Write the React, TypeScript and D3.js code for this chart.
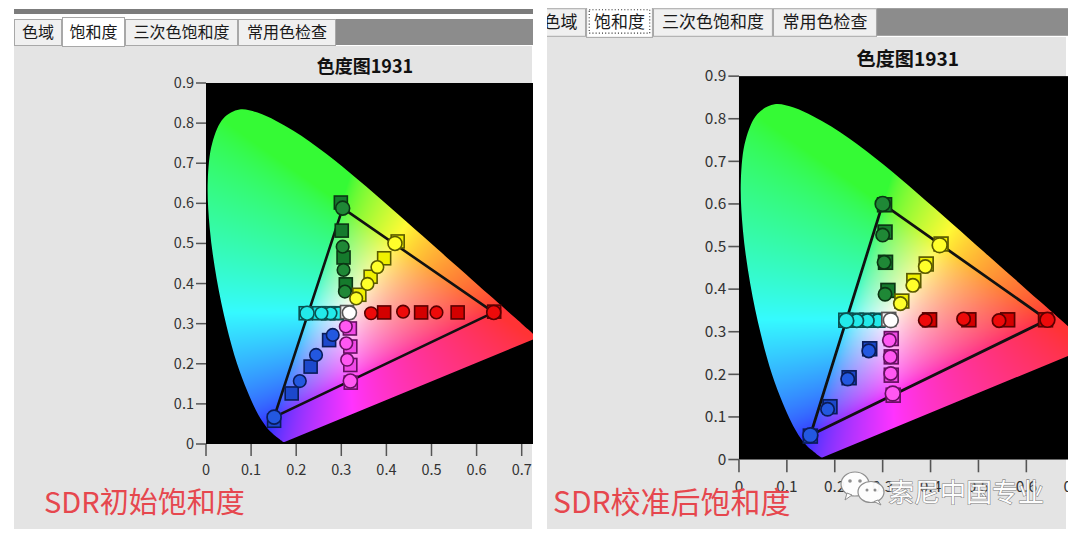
import React, { useMemo } from 'react';
import * as d3 from 'd3';

type Pt = [number, number];

// CIE 1931 2° spectral locus (x, y), 380–700 nm
const spectralLocus: Pt[] = [
  [0.1741, 0.005], [0.174, 0.005], [0.1738, 0.0049], [0.1736, 0.0049], [0.1733, 0.0048],
  [0.173, 0.0048], [0.1726, 0.0048], [0.1721, 0.0048], [0.1714, 0.0051], [0.1703, 0.0058],
  [0.1689, 0.0069], [0.1669, 0.0086], [0.1644, 0.0109], [0.1611, 0.0138], [0.1566, 0.0177],
  [0.151, 0.0227], [0.144, 0.0297], [0.1355, 0.0399], [0.1241, 0.0578], [0.1096, 0.0868],
  [0.0913, 0.1327], [0.0687, 0.2007], [0.0454, 0.295], [0.0235, 0.4127], [0.0082, 0.5384],
  [0.0039, 0.6548], [0.0139, 0.7502], [0.0389, 0.812], [0.0743, 0.8338], [0.1142, 0.8262],
  [0.1547, 0.8059], [0.1929, 0.7816], [0.2296, 0.7543], [0.2658, 0.7243], [0.3016, 0.6923],
  [0.3373, 0.6589], [0.3731, 0.6245], [0.4087, 0.5896], [0.4441, 0.5547], [0.4788, 0.5202],
  [0.5125, 0.4866], [0.5448, 0.4544], [0.5752, 0.4242], [0.6029, 0.3965], [0.627, 0.3725],
  [0.6482, 0.3514], [0.6658, 0.334], [0.6801, 0.3197], [0.6915, 0.3083], [0.7006, 0.2993],
  [0.7079, 0.292], [0.714, 0.2859], [0.719, 0.2809], [0.723, 0.277], [0.726, 0.274],
  [0.7283, 0.2717], [0.73, 0.27], [0.7311, 0.2689], [0.732, 0.268], [0.7334, 0.2666],
  [0.7344, 0.2656], [0.7347, 0.2653],
];

const xTicks = [0, 0.1, 0.2, 0.3, 0.4, 0.5, 0.6, 0.7];
const yTicks = [0, 0.1, 0.2, 0.3, 0.4, 0.5, 0.6, 0.7, 0.8, 0.9];
const tabLabels = ['色域', '饱和度', '三次色饱和度', '常用色检查'];
const chartTitle = '色度图1931';
const leftCaption = 'SDR初始饱和度';
const rightCaption = 'SDR校准后饱和度';
const watermarkText = '索尼中国专业';

// Initial (uncalibrated) saturation sweep: targets (squares) and measurements (circles), 25%→100%
const initRedTarget: Pt[] = [[0.395, 0.328], [0.477, 0.328], [0.558, 0.328], [0.639, 0.33]];
const initRedMeasured: Pt[] = [[0.366, 0.326], [0.437, 0.33], [0.511, 0.328], [0.638, 0.328]];
const initGreenTarget: Pt[] = [[0.31, 0.398], [0.305, 0.465], [0.301, 0.532], [0.299, 0.602]];
const initGreenMeasured: Pt[] = [[0.308, 0.38], [0.305, 0.434], [0.303, 0.492], [0.303, 0.588]];
const initBlueTarget: Pt[] = [[0.273, 0.259], [0.232, 0.193], [0.19, 0.126], [0.151, 0.058]];
const initBlueMeasured: Pt[] = [[0.281, 0.272], [0.244, 0.222], [0.208, 0.157], [0.151, 0.067]];
const initCyanTarget: Pt[] = [[0.29, 0.326], [0.271, 0.326], [0.251, 0.326], [0.221, 0.326]];
const initCyanMeasured: Pt[] = [[0.293, 0.326], [0.276, 0.326], [0.256, 0.326], [0.224, 0.326]];
const initMagentaTarget: Pt[] = [[0.319, 0.288], [0.32, 0.243], [0.32, 0.197], [0.321, 0.153]];
const initMagentaMeasured: Pt[] = [[0.31, 0.293], [0.311, 0.251], [0.313, 0.21], [0.32, 0.157]];
const initYellowTarget: Pt[] = [[0.34, 0.372], [0.365, 0.417], [0.395, 0.463], [0.425, 0.505]];
const initYellowMeasured: Pt[] = [[0.333, 0.363], [0.358, 0.399], [0.38, 0.441], [0.419, 0.5]];
const initWhiteTarget: Pt[] = [[0.3127, 0.329]];
const initWhiteMeasured: Pt[] = [[0.318, 0.327]];

// Calibrated saturation sweep
const calRedTarget: Pt[] = [[0.398, 0.328], [0.48, 0.328], [0.561, 0.328], [0.64, 0.328]];
const calRedMeasured: Pt[] = [[0.389, 0.327], [0.469, 0.33], [0.543, 0.326], [0.644, 0.328]];
const calGreenTarget: Pt[] = [[0.311, 0.397], [0.306, 0.463], [0.305, 0.534], [0.304, 0.598]];
const calGreenMeasured: Pt[] = [[0.305, 0.388], [0.303, 0.463], [0.3, 0.527], [0.3, 0.6]];
const calBlueTarget: Pt[] = [[0.273, 0.26], [0.23, 0.192], [0.19, 0.124], [0.149, 0.055]];
const calBlueMeasured: Pt[] = [[0.271, 0.255], [0.227, 0.189], [0.185, 0.118], [0.149, 0.057]];
const calCyanTarget: Pt[] = [[0.29, 0.327], [0.267, 0.327], [0.245, 0.327], [0.223, 0.327]];
const calCyanMeasured: Pt[] = [[0.29, 0.326], [0.268, 0.326], [0.246, 0.326], [0.224, 0.326]];
const calMagentaTarget: Pt[] = [[0.318, 0.284], [0.318, 0.241], [0.318, 0.198], [0.322, 0.151]];
const calMagentaMeasured: Pt[] = [[0.314, 0.28], [0.316, 0.241], [0.317, 0.202], [0.321, 0.155]];
const calYellowTarget: Pt[] = [[0.34, 0.372], [0.365, 0.42], [0.391, 0.459], [0.422, 0.506]];
const calYellowMeasured: Pt[] = [[0.337, 0.366], [0.363, 0.409], [0.389, 0.453], [0.419, 0.503]];
const calWhiteTarget: Pt[] = [[0.3127, 0.329]];
const calWhiteMeasured: Pt[] = [[0.317, 0.327]];

interface SeriesStyle { square: string; circle: string; stroke: string }
const styles: Record<string, SeriesStyle> = {
  red: { square: '#d40000', circle: '#ee0a0a', stroke: '#5a0000' },
  green: { square: '#157a2c', circle: '#1f8836', stroke: '#0b3514' },
  blue: { square: '#1c48cc', circle: '#2358e0', stroke: '#0a1c5a' },
  cyan: { square: '#14dede', circle: '#22eaea', stroke: '#0a5252' },
  magenta: { square: '#f048e6', circle: '#ff58f2', stroke: '#651060' },
  yellow: { square: '#f0f000', circle: '#ffff2a', stroke: '#5a5a00' },
  white: { square: '#f4f4f4', circle: '#ffffff', stroke: '#555555' },
};

interface Series { key: string; target: Pt[]; measured: Pt[] }

const initialSeries: Series[] = [
  { key: 'green', target: initGreenTarget, measured: initGreenMeasured },
  { key: 'yellow', target: initYellowTarget, measured: initYellowMeasured },
  { key: 'red', target: initRedTarget, measured: initRedMeasured },
  { key: 'magenta', target: initMagentaTarget, measured: initMagentaMeasured },
  { key: 'blue', target: initBlueTarget, measured: initBlueMeasured },
  { key: 'cyan', target: initCyanTarget, measured: initCyanMeasured },
  { key: 'white', target: initWhiteTarget, measured: initWhiteMeasured },
];

const calibratedSeries: Series[] = [
  { key: 'green', target: calGreenTarget, measured: calGreenMeasured },
  { key: 'yellow', target: calYellowTarget, measured: calYellowMeasured },
  { key: 'red', target: calRedTarget, measured: calRedMeasured },
  { key: 'magenta', target: calMagentaTarget, measured: calMagentaMeasured },
  { key: 'blue', target: calBlueTarget, measured: calBlueMeasured },
  { key: 'cyan', target: calCyanTarget, measured: calCyanMeasured },
  { key: 'white', target: calWhiteTarget, measured: calWhiteMeasured },
];

const FONT = '"Noto Sans CJK SC", "Noto Sans", sans-serif';

// Panel layout in its own coordinate frame
const PLOT_LEFT = 206;
const PLOT_TOP = 83;
const PLOT_BOTTOM = 444;
const PLOT_RIGHT = 545;
const xScale = d3.scaleLinear().domain([0, 0.7]).range([PLOT_LEFT, PLOT_LEFT + 315.7]);
const yScale = d3.scaleLinear().domain([0, 0.9]).range([PLOT_BOTTOM, PLOT_TOP]);

const tabEdges = [14, 62, 125, 238, 336];

function gammaEncode(v: number): number {
  return v <= 0.0031308 ? 12.92 * v : 1.055 * Math.pow(v, 1 / 2.4) - 0.055;
}

// Paint chromaticity colours (xyY → sRGB, clipped & max-normalised) into a bitmap
function renderGamut(): string {
  const res = 2;
  const w = Math.round((PLOT_RIGHT - PLOT_LEFT) * res);
  const h = Math.round((PLOT_BOTTOM - PLOT_TOP) * res);
  const canvas = document.createElement('canvas');
  canvas.width = w;
  canvas.height = h;
  const ctx = canvas.getContext('2d');
  if (!ctx) return '';
  const img = ctx.createImageData(w, h);
  const lift = 0.035;
  for (let j = 0; j < h; j++) {
    const y = Math.max(0.002, yScale.invert(PLOT_TOP + (j + 0.5) / res));
    for (let i = 0; i < w; i++) {
      const x = Math.max(0, xScale.invert(PLOT_LEFT + (i + 0.5) / res));
      const X = x / y;
      const Z = Math.max(0, 1 - x - y) / y;
      let r = Math.max(0, 3.2406 * X - 1.5372 - 0.4986 * Z);
      let g = Math.max(0, -0.9689 * X + 1.8758 + 0.0415 * Z);
      let b = Math.max(0, 0.0557 * X - 0.204 + 1.057 * Z);
      const m = Math.max(r, g, b, 1e-6);
      r = (r / m) * (1 - lift) + lift;
      g = (g / m) * (1 - lift) + lift;
      b = (b / m) * (1 - lift) + lift;
      const k = (j * w + i) * 4;
      img.data[k] = Math.round(255 * gammaEncode(r));
      img.data[k + 1] = Math.round(250 * gammaEncode(g));
      img.data[k + 2] = Math.round(255 * gammaEncode(b));
      img.data[k + 3] = 255;
    }
  }
  ctx.putImageData(img, 0, 0);
  return canvas.toDataURL();
}

// Smooth spectral curve, closed by the straight purple line
const locusPath =
  (d3
    .line<Pt>()
    .x((d) => xScale(d[0]))
    .y((d) => yScale(d[1]))
    .curve(d3.curveCatmullRom.alpha(0.5))(spectralLocus) || '') + 'Z';

interface PanelProps {
  series: Series[];
  gamutUrl: string;
  transform: string;
  clipId: string;
  focusTab: boolean;
  showTopBar: boolean;
}

function Panel({ series, gamutUrl, transform, clipId, focusTab, showTopBar }: PanelProps) {
  const byKey = (k: string) => series.find((s) => s.key === k)!;
  const red = byKey('red').measured;
  const green = byKey('green').measured;
  const blue = byKey('blue').measured;
  const tri: Pt[] = [green[green.length - 1], red[red.length - 1], blue[blue.length - 1]];
  const triPath = d3
    .line<Pt>()
    .x((d) => xScale(d[0]))
    .y((d) => yScale(d[1]))
    .curve(d3.curveLinearClosed)(tri) || '';

  return (
    <g clipPath={`url(#${clipId})`}>
      <g transform={transform}>
        {showTopBar && <rect x={14} y={9} width={530} height={5} fill="#7c7c7c" />}
        {/* tab strip */}
        <rect x={tabEdges[4]} y={19} width={220} height={26} fill="#8c8c8c" />
        {tabLabels.map((t, i) => {
          const x0 = tabEdges[i];
          const x1 = tabEdges[i + 1];
          const selected = i === 1;
          return (
            <g key={t}>
              <rect
                x={x0 + 0.5}
                y={selected ? 17.5 : 19.5}
                width={x1 - x0 - 1}
                height={selected ? 29 : 26}
                fill={selected ? '#ffffff' : '#f0f0f0'}
                stroke="#a8a8a8"
                strokeWidth={1}
              />
              {selected && focusTab && (
                <rect
                  x={x0 + 3}
                  y={20.5}
                  width={x1 - x0 - 6}
                  height={22}
                  fill="none"
                  stroke="#333"
                  strokeWidth={1}
                  strokeDasharray="1 2"
                />
              )}
              <text
                x={(x0 + x1) / 2}
                y={38}
                textAnchor="middle"
                fontFamily={FONT}
                fontSize={16}
                fill="#1a1a1a"
              >
                {t}
              </text>
            </g>
          );
        })}

        {/* title */}
        <text x={365} y={73} textAnchor="middle" fontFamily={FONT} fontSize={18} fontWeight="bold" fill="#111">
          {chartTitle}
        </text>

        {/* plot area */}
        <rect x={PLOT_LEFT} y={PLOT_TOP} width={PLOT_RIGHT - PLOT_LEFT} height={PLOT_BOTTOM - PLOT_TOP} fill="#000" />
        {gamutUrl && (
          <image
            href={gamutUrl}
            x={PLOT_LEFT}
            y={PLOT_TOP}
            width={PLOT_RIGHT - PLOT_LEFT}
            height={PLOT_BOTTOM - PLOT_TOP}
            preserveAspectRatio="none"
            clipPath="url(#locusClip)"
          />
        )}

        {/* axes */}
        {yTicks.map((t) => (
          <g key={`y${t}`}>
            <line x1={PLOT_LEFT - 10} x2={PLOT_LEFT} y1={yScale(t)} y2={yScale(t)} stroke="#555" strokeWidth={1.5} />
            <text
              x={PLOT_LEFT - 12}
              y={yScale(t) + 5}
              textAnchor="end"
              fontFamily={FONT}
              fontSize={14.5}
              fill="#333"
            >
              {d3.format('~g')(t)}
            </text>
          </g>
        ))}
        {xTicks.map((t) => (
          <g key={`x${t}`}>
            <line x1={xScale(t)} x2={xScale(t)} y1={PLOT_BOTTOM} y2={PLOT_BOTTOM + 12} stroke="#555" strokeWidth={1.5} />
            <text x={xScale(t)} y={PLOT_BOTTOM + 31} textAnchor="middle" fontFamily={FONT} fontSize={14.5} fill="#333">
              {d3.format('~g')(t)}
            </text>
          </g>
        ))}

        {/* measured gamut triangle */}
        <path d={triPath} fill="none" stroke="#111" strokeWidth={2.6} strokeLinejoin="round" />

        {/* saturation markers */}
        {series.map((s) => {
          const st = styles[s.key];
          return (
            <g key={s.key}>
              {s.target.map((p, i) => (
                <rect
                  key={`t${i}`}
                  x={xScale(p[0]) - 6.5}
                  y={yScale(p[1]) - 6.5}
                  width={13}
                  height={13}
                  fill={st.square}
                  stroke={st.stroke}
                  strokeWidth={1.6}
                />
              ))}
              {s.measured.map((p, i) => (
                <circle
                  key={`m${i}`}
                  cx={xScale(p[0])}
                  cy={yScale(p[1])}
                  r={i === s.measured.length - 1 ? 7 : 6.3}
                  fill={st.circle}
                  stroke={st.stroke}
                  strokeWidth={1.6}
                />
              ))}
            </g>
          );
        })}
      </g>
    </g>
  );
}

function WeChatMark({ x, y }: { x: number; y: number }) {
  return (
    <g transform={`translate(${x},${y})`} opacity={0.95}>
      <ellipse cx={14} cy={12} rx={14} ry={12} fill="#fff" stroke="#8a8a8a" strokeWidth={1.2} />
      <path d="M6,21 L4,28 L11,23 Z" fill="#fff" stroke="#8a8a8a" strokeWidth={1} />
      <circle cx={9} cy={9} r={1.8} fill="#8a8a8a" />
      <circle cx={19} cy={9} r={1.8} fill="#8a8a8a" />
      <ellipse cx={30} cy={20} rx={13} ry={10.5} fill="#fff" stroke="#8a8a8a" strokeWidth={1.2} />
      <path d="M37,28 L40,33 L33,29.5 Z" fill="#fff" stroke="#8a8a8a" strokeWidth={1} />
      <circle cx={26} cy={18} r={1.5} fill="#8a8a8a" />
      <circle cx={34} cy={18} r={1.5} fill="#8a8a8a" />
    </g>
  );
}

export default function App() {
  const gamutUrl = useMemo(() => (typeof document !== 'undefined' ? renderGamut() : ''), []);
  const s = 1.062;

  return (
    <svg
      width={1080}
      height={540}
      viewBox="0 0 1080 540"
      style={{ position: 'absolute', left: 0, top: 0, background: '#fff' }}
    >
      <defs>
        <clipPath id="locusClip" clipPathUnits="userSpaceOnUse">
          <path d={locusPath} />
        </clipPath>
        <clipPath id="panelClipL">
          <rect x={14} y={0} width={519} height={529} />
        </clipPath>
        <clipPath id="panelClipR">
          <rect x={547} y={8} width={521} height={521} />
        </clipPath>
      </defs>

      <rect width={1080} height={540} fill="#fff" />
      <rect x={14} y={46} width={518} height={483} fill="#e4e4e4" />
      <rect x={547} y={37} width={519} height={492} fill="#e4e4e4" />

      <Panel
        series={initialSeries}
        gamutUrl={gamutUrl}
        transform="translate(0,0)"
        clipId="panelClipL"
        focusTab={false}
        showTopBar={true}
      />
      <Panel
        series={calibratedSeries}
        gamutUrl={gamutUrl}
        transform={`translate(520.2,-12) scale(${s})`}
        clipId="panelClipR"
        focusTab={true}
        showTopBar={false}
      />

      <text x={44} y={513} fontFamily={FONT} fontSize={29} fill="#e6474e">
        {leftCaption}
      </text>
      <text x={553} y={513} fontFamily={FONT} fontSize={30} fill="#e6474e">
        {rightCaption}
      </text>

      <WeChatMark x={841} y={472} />
      <text
        x={888}
        y={502}
        fontFamily={FONT}
        fontSize={26}
        fill="#ffffff"
        stroke="#7a7a7a"
        strokeWidth={1.1}
        paintOrder="stroke"
        opacity={0.95}
      >
        {watermarkText}
      </text>
    </svg>
  );
}
